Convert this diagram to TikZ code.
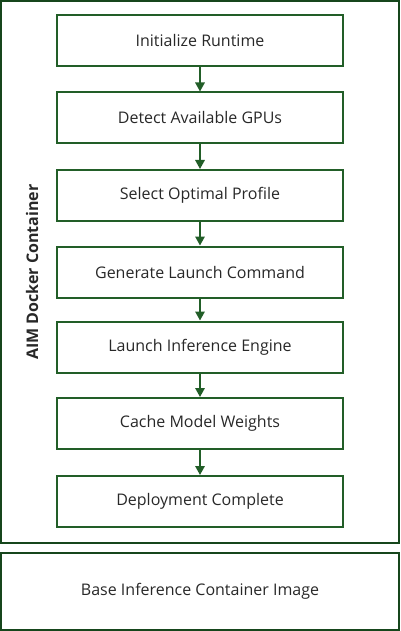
\documentclass[tikz,border=0pt]{standalone}
\usepackage{fontspec}
\setmainfont{Open Sans}
\usetikzlibrary{arrows.meta}
\definecolor{boxgreen}{RGB}{34,94,40}
\definecolor{outergreen}{RGB}{22,70,28}
\definecolor{txt}{RGB}{40,40,40}
\begin{document}
\begin{tikzpicture}[x=1pt,y=-1pt,
  stepbox/.style={draw=boxgreen,line width=2pt,minimum width=286pt,minimum height=51pt,inner sep=0pt,font=\fontsize{16}{19}\selectfont,text=txt},
  flow/.style={draw=boxgreen,line width=1.6pt,-{Triangle[length=9pt,width=9.5pt]}}]
\useasboundingbox (0,0) rectangle (400,631);
\node[draw=outergreen,line width=2pt,minimum width=398pt,minimum height=542pt,inner sep=0pt] (cont) at (200,272) {};
\node[draw=outergreen,line width=2pt,minimum width=398pt,minimum height=77pt,inner sep=0pt,font=\fontsize{16}{19}\selectfont,text=txt] (base) at (200,591.5) {Base Inference Container Image};
\node[rotate=90,font=\bfseries\fontsize{16}{19}\selectfont,text=txt] (lbl) at (32,272) {AIM Docker Container};
\node[stepbox] (s1) at (200,41) {Initialize Runtime};
\node[stepbox] (s2) at (200,118) {Detect Available GPUs};
\node[stepbox] (s3) at (200,195.5) {Select Optimal Profile};
\node[stepbox] (s4) at (200,272) {Generate Launch Command};
\node[stepbox] (s5) at (200,347) {Launch Inference Engine};
\node[stepbox] (s6) at (200,423.5) {Cache Model Weights};
\node[stepbox] (s7) at (200,501.5) {Deployment Complete};
\foreach \a/\b in {s1/s2,s2/s3,s3/s4,s4/s5,s5/s6,s6/s7}
  \draw[flow] (\a) -- (\b);
\end{tikzpicture}
\end{document}
